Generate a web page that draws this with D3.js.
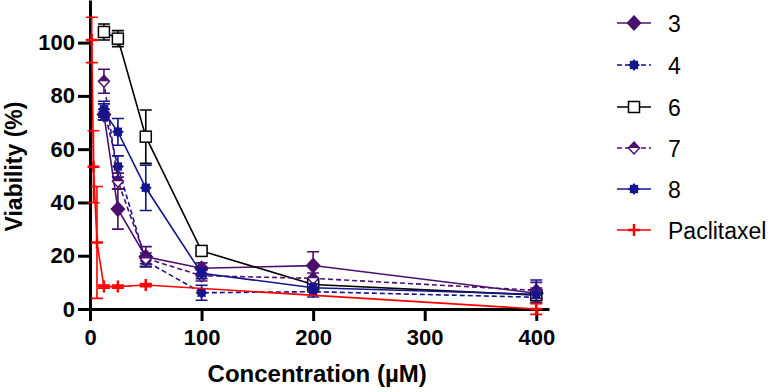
<!DOCTYPE html>
<html>
<head>
<meta charset="utf-8">
<script src="https://cdn.jsdelivr.net/npm/d3@7"></script>
<style>
  html, body { margin: 0; padding: 0; background: #fff; }
  svg { display: block; font-family: "Liberation Sans", Arial, sans-serif; }
</style>
</head>
<body>
<div id="chart"></div>
<script>
// concentrations (µM)
const conc = [12.5, 25, 50, 100, 200, 400];
const paclConc = [1.5625, 3.125, 6.25, 12.5, 25, 50, 400];

// viability (%) and SD per compound
const s3 = [73, 37.5, 19.6, 15.3, 16.3, 5.9];
const e3 = [2, 7.5, 3.8, 2, 5.2, 2];
const s4 = [75, 53.5, 18, 6.1, 6.5, 4.4];
const e4 = [3, 4, 2, 2.8, 2, 2];
const s6 = [104, 101.5, 64.7, 21.8, 9.2, 5.2];
const e6 = [3, 3, 10, 1, 1, 1.5];
const s7 = [85.5, 48, 19, 12.5, 11.5, 7];
const e7 = [4.5, 3, 2, 2, 2, 3];
const s8 = [74, 66.5, 45.5, 13.4, 8, 5.5];
const e8 = [3, 5, 8.5, 2, 1.5, 5.4];
const pacl = [101, 53.4, 25, 8.4, 8.4, 9, 0];
const ePacl = [8.5, 13.5, 21, 0.6, 0.6, 0.6, 2];

const seriesNames = ["3", "4", "6", "7", "8", "Paclitaxel"];
const xTicks = [0, 100, 200, 300, 400];
const yTicks = [0, 20, 40, 60, 80, 100];

const purple = "#4b0f6e";
const navy = "#14148c";
const red = "#ff0000";

const series = [
  { name: seriesNames[0], x: conc, y: s3, e: e3, color: purple, dash: null, marker: "diamond" },
  { name: seriesNames[1], x: conc, y: s4, e: e4, color: navy, dash: "5,3", marker: "star" },
  { name: seriesNames[2], x: conc, y: s6, e: e6, color: "#000", dash: null, marker: "square" },
  { name: seriesNames[3], x: conc, y: s7, e: e7, color: purple, dash: "5,3", marker: "halfdiamond" },
  { name: seriesNames[4], x: conc, y: s8, e: e8, color: navy, dash: null, marker: "star" },
  { name: seriesNames[5], x: paclConc, y: pacl, e: ePacl, color: red, dash: null, marker: "plus" }
];

const width = 774, height = 392;
const svg = d3.select("#chart").append("svg")
  .attr("width", width)
  .attr("height", height);

const x = d3.scaleLinear().domain([0, 411.4]).range([90, 549]);
const y = d3.scaleLinear().domain([0, 116]).range([309, 0]);

// axes
const xAxis = svg.append("g")
  .attr("transform", `translate(0,${y(0)})`)
  .call(d3.axisBottom(x).tickValues(xTicks).tickSize(12).tickSizeOuter(0).tickPadding(8));
const yAxis = svg.append("g")
  .attr("transform", `translate(${x(0)},0)`)
  .call(d3.axisLeft(y).tickValues(yTicks).tickSize(12).tickSizeOuter(0).tickPadding(3));

[xAxis, yAxis].forEach(g => {
  g.selectAll("path, line").attr("stroke", "#000").attr("stroke-width", 3);
  g.selectAll("text")
    .attr("fill", "#000")
    .style("font-size", "22px")
    .style("font-weight", "bold");
});

svg.append("text")
  .attr("x", (x(0) + x(400)) / 2 + 4)
  .attr("y", 382)
  .attr("text-anchor", "middle")
  .style("font-size", "24px")
  .style("font-weight", "bold")
  .text("Concentration (µM)");

svg.append("text")
  .attr("transform", `translate(22,${(y(0) + y(116)) / 2 + 12}) rotate(-90)`)
  .attr("text-anchor", "middle")
  .style("font-size", "23px")
  .style("font-weight", "bold")
  .text("Viability (%)");

// marker shapes
function starPath(r) {
  const pts = [];
  for (let i = 0; i < 16; i++) {
    const a = i * Math.PI / 8;
    const rr = i % 2 === 0 ? r : r * 0.72;
    pts.push([rr * Math.sin(a), -rr * Math.cos(a)]);
  }
  return "M" + pts.join("L") + "Z";
}

function drawMarker(g, type, color) {
  if (type === "diamond") {
    g.append("path").attr("d", "M0,-7L6.5,0L0,7L-6.5,0Z")
      .attr("fill", color).attr("stroke", color).attr("stroke-width", 1.5);
  } else if (type === "halfdiamond") {
    g.append("path").attr("d", "M0,-6L5.5,0L0,6L-5.5,0Z")
      .attr("fill", "#fff").attr("stroke", color).attr("stroke-width", 1.5);
    g.append("path").attr("d", "M-5.5,0L0,-6L5.5,0Z").attr("fill", color);
  } else if (type === "square") {
    g.append("rect").attr("x", -5.5).attr("y", -5.5).attr("width", 11).attr("height", 11)
      .attr("fill", "#fff").attr("stroke", color).attr("stroke-width", 1.5);
  } else if (type === "star") {
    g.append("path").attr("d", starPath(6)).attr("fill", color);
  } else if (type === "plus") {
    g.append("path").attr("d", "M-6,0H6M0,-6V6")
      .attr("stroke", color).attr("stroke-width", 2.5).attr("fill", "none");
  }
}

const line = d3.line();

series.forEach(s => {
  const g = svg.append("g");
  const pts = s.x.map((c, i) => [x(c), y(s.y[i])]);

  g.append("path")
    .attr("d", line(pts))
    .attr("fill", "none")
    .attr("stroke", s.color)
    .attr("stroke-width", 1.6)
    .attr("stroke-dasharray", s.dash);

  // error bars
  s.x.forEach((c, i) => {
    const cx = x(c), lo = y(s.y[i] - s.e[i]), hi = y(s.y[i] + s.e[i]);
    g.append("path")
      .attr("d", `M${cx},${lo}V${hi}M${cx - 6},${lo}H${cx + 6}M${cx - 6},${hi}H${cx + 6}`)
      .attr("stroke", s.color)
      .attr("stroke-width", 1.6)
      .attr("fill", "none");
  });

  pts.forEach(p => {
    drawMarker(g.append("g").attr("transform", `translate(${p[0]},${p[1]})`), s.marker, s.color);
  });
});

// legend
const legendY = [23, 65, 107, 148, 189, 230];
series.forEach((s, i) => {
  const g = svg.append("g").attr("transform", `translate(0,${legendY[i]})`);
  g.append("line")
    .attr("x1", 617).attr("x2", 651)
    .attr("stroke", s.color)
    .attr("stroke-width", 1.6)
    .attr("stroke-dasharray", s.dash);
  drawMarker(g.append("g").attr("transform", "translate(634,0)"), s.marker, s.color);
  g.append("text")
    .attr("x", 668)
    .attr("y", 8.5)
    .style("font-size", "23px")
    .attr("fill", "#000")
    .text(s.name);
});
</script>
</body>
</html>
